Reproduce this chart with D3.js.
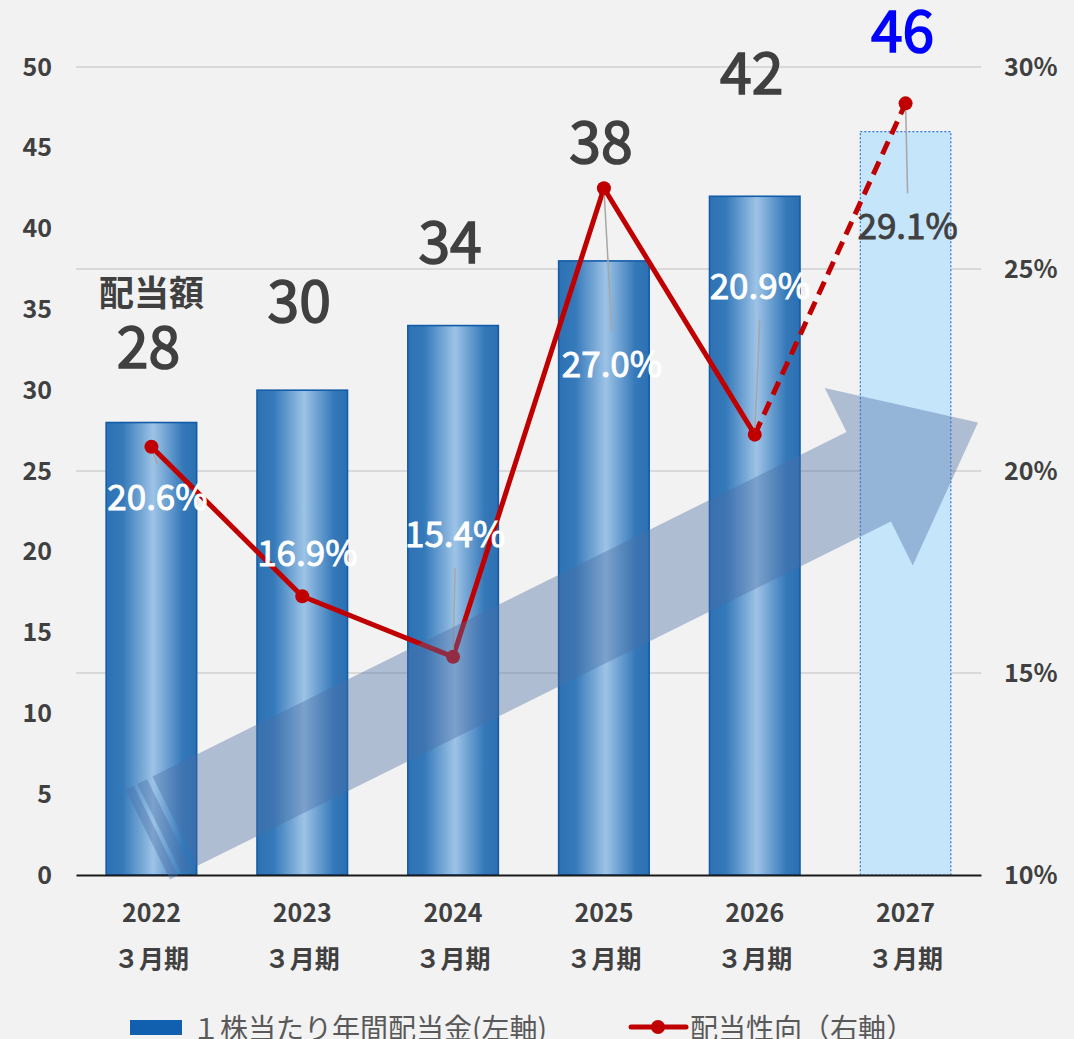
<!DOCTYPE html>
<html>
<head>
<meta charset="utf-8">
<script src="https://cdn.jsdelivr.net/npm/d3@7"></script>
<style>
  html, body { margin: 0; padding: 0; background: #F2F2F2; }
  svg { display: block; font-family: "Noto Sans CJK JP", "Noto Sans", sans-serif; }
</style>
</head>
<body>
<svg id="chart" width="1074" height="1039"></svg>
<script>
// data
const categories = ['2022', '2023', '2024', '2025', '2026', '2027'];
const periodLabel = '３月期';
const dividends = [28, 30, 34, 38, 42, 46];
const payoutRatios = [20.6, 16.9, 15.4, 27.0, 20.9, 29.1];
const leftTicks = [0, 5, 10, 15, 20, 25, 30, 35, 40, 45, 50];
const rightTicks = [10, 15, 20, 25, 30];
const forecastIndex = 5;
const seriesNames = ['１株当たり年間配当金(左軸)', '配当性向（右軸）'];

// hand placed label nudges (pixels)
const valueLift = [55, 68, 63, 98, 102, 80];
const ratioOffset = [[6, 51], [5, -43], [2, -122], [8, 176], [5, -148], [2, 123]];

const W = 1074, H = 1039;
const plot = {left: 76, right: 981, top: 67, bottom: 875};
const svg = d3.select('#chart');

svg.append('rect').attr('width', W).attr('height', H).attr('fill', '#F2F2F2');

const x = d3.scaleBand()
    .domain(categories)
    .range([plot.left, plot.right])
    .paddingInner(0.4)
    .paddingOuter(0.2);
const yL = d3.scaleLinear().domain([0, 50]).range([plot.bottom, plot.top]);
const yR = d3.scaleLinear().domain([10, 30]).range([plot.bottom, plot.top]);
const cx = i => x(categories[i]) + x.bandwidth() / 2;

// gradient for the bars
const defs = svg.append('defs');
const grad = defs.append('linearGradient').attr('id', 'barGrad')
    .attr('x1', '0%').attr('x2', '100%').attr('y1', '0%').attr('y2', '0%');
[[0, '#2E72B4'], [0.18, '#3479BA'], [0.52, '#9DC3E6'], [0.85, '#3478B9'], [1, '#2C70B2']]
    .forEach(s => grad.append('stop').attr('offset', s[0]).attr('stop-color', s[1]));

// gridlines from the right axis
svg.append('g').selectAll('line')
    .data(rightTicks.filter(t => t > 10))
    .enter().append('line')
    .attr('x1', plot.left).attr('x2', plot.right)
    .attr('y1', d => yR(d)).attr('y2', d => yR(d))
    .attr('stroke', '#D9D9D9').attr('stroke-width', 2);

// axes
const leftAxis = svg.append('g')
    .attr('transform', `translate(${plot.left},0)`)
    .call(d3.axisLeft(yL).tickValues(leftTicks).tickSize(0).tickPadding(24));
leftAxis.select('.domain').remove();
leftAxis.selectAll('text')
    .attr('font-size', 25).attr('font-weight', 'bold').attr('fill', '#404040')
    .attr('font-family', '"Noto Sans CJK JP", sans-serif');

const rightAxis = svg.append('g')
    .attr('transform', `translate(${plot.right},0)`)
    .call(d3.axisRight(yR).tickValues(rightTicks).tickSize(0).tickPadding(23)
        .tickFormat(d => d + '%'));
rightAxis.select('.domain').remove();
rightAxis.selectAll('text')
    .attr('font-size', 25).attr('font-weight', 'bold').attr('fill', '#404040')
    .attr('font-family', '"Noto Sans CJK JP", sans-serif');

// bars
svg.append('g').selectAll('rect')
    .data(dividends)
    .enter().append('rect')
    .attr('x', (d, i) => x(categories[i]))
    .attr('width', x.bandwidth())
    .attr('y', d => yL(d))
    .attr('height', d => yL(0) - yL(d))
    .attr('fill', (d, i) => i === forecastIndex ? '#C5E5FB' : 'url(#barGrad)')
    .attr('stroke', (d, i) => i === forecastIndex ? '#2E75D6' : '#125CAA')
    .attr('stroke-width', (d, i) => i === forecastIndex ? 1.2 : 1.6)
    .attr('stroke-dasharray', (d, i) => i === forecastIndex ? '2,2' : null);

// x axis
const xAxis = svg.append('g')
    .attr('transform', `translate(0,${plot.bottom})`)
    .call(d3.axisBottom(x).tickSize(0).tickPadding(0));
xAxis.select('.domain').attr('stroke', '#1A1A1A').attr('stroke-width', 2);
xAxis.selectAll('.tick text').each(function(d) {
    const t = d3.select(this).text(null)
        .attr('font-size', 25).attr('font-weight', 'bold').attr('fill', '#404040')
        .attr('font-family', '"Noto Sans CJK JP", sans-serif')
        .attr('dy', null).attr('y', 0);
    t.append('tspan').attr('x', 0).attr('y', 47).text(d);
    t.append('tspan').attr('x', 0).attr('y', 93).text(periodLabel);
});

// payout ratio line
const pts = payoutRatios.map((v, i) => [cx(i), yR(v)]);
const line = d3.line();
svg.append('path')
    .attr('d', line(pts.slice(0, forecastIndex)))
    .attr('fill', 'none').attr('stroke', '#C00000').attr('stroke-width', 5)
    .attr('stroke-linejoin', 'round');
svg.append('path')
    .attr('d', line(pts.slice(forecastIndex - 1)))
    .attr('fill', 'none').attr('stroke', '#C00000').attr('stroke-width', 5)
    .attr('stroke-dasharray', '14,8');

// leader lines
const lab = pts.map((p, i) => [p[0] + ratioOffset[i][0], p[1] + ratioOffset[i][1]]);
svg.append('g').selectAll('line')
    .data(pts.map((p, i) => i).filter(i => Math.abs(ratioOffset[i][1]) > 50))
    .enter().append('line')
    .attr('x1', i => pts[i][0]).attr('y1', i => pts[i][1])
    .attr('x2', i => lab[i][0])
    .attr('y2', i => lab[i][1] - Math.sign(ratioOffset[i][1]) * 33)
    .attr('stroke', '#A6A6A6').attr('stroke-width', 1.5);

svg.append('g').selectAll('circle')
    .data(pts)
    .enter().append('circle')
    .attr('cx', d => d[0]).attr('cy', d => d[1]).attr('r', 7)
    .attr('fill', '#C00000');

// big trend arrow (decoration), sits over the line
const tail = [x(categories[0]) + 0.46 * x.bandwidth(), yL(2.5)];
const tip = [plot.right - 3, yL(28)];
const len = Math.hypot(tip[0] - tail[0], tip[1] - tail[1]);
const ux = (tip[0] - tail[0]) / len, uy = (tip[1] - tail[1]) / len;
const px = -uy, py = ux; // perpendicular
const pt = (t, w) => [tail[0] + ux * t + px * w, tail[1] + uy * t + py * w];
const shaftW = 50, headW = 99, headLen = 122;
const arrowG = svg.append('g').attr('fill', '#4A6FA5').attr('fill-opacity', 0.4);
const poly = p => arrowG.append('path').attr('d', 'M' + p.map(q => q.join(',')).join('L') + 'Z');
poly([pt(0, -shaftW), pt(9, -shaftW), pt(9, shaftW), pt(0, shaftW)]);
poly([pt(13, -shaftW), pt(24, -shaftW), pt(24, shaftW), pt(13, shaftW)]);
poly([pt(30, -shaftW), pt(len - headLen, -shaftW), pt(len - headLen, -headW), pt(len, 0),
      pt(len - headLen, headW), pt(len - headLen, shaftW), pt(30, shaftW)]);

// ratio labels (regular face with a thin stroke, reads as medium)
svg.append('g').selectAll('text')
    .data(payoutRatios)
    .enter().append('text')
    .attr('x', (d, i) => lab[i][0])
    .attr('y', (d, i) => lab[i][1])
    .attr('dy', '0.36em')
    .attr('text-anchor', 'middle')
    .attr('font-size', 35)
    .attr('fill', (d, i) => i === forecastIndex ? '#404040' : '#FFFFFF')
    .attr('stroke', (d, i) => i === forecastIndex ? '#404040' : '#FFFFFF')
    .attr('stroke-width', 0.9)
    .text(d => d.toFixed(1) + '%');

// dividend value labels
svg.append('g').selectAll('text')
    .data(dividends)
    .enter().append('text')
    .attr('x', (d, i) => cx(i) - 3)
    .attr('y', (d, i) => yL(d) - valueLift[i])
    .attr('text-anchor', 'middle')
    .attr('font-size', 57)
    .attr('fill', (d, i) => i === forecastIndex ? '#0000FF' : '#404040')
    .attr('stroke', (d, i) => i === forecastIndex ? '#0000FF' : '#404040')
    .attr('stroke-width', 1.6)
    .text(d => d);

svg.append('text')
    .attr('x', cx(0)).attr('y', yL(dividends[0]) - valueLift[0] - 62)
    .attr('text-anchor', 'middle')
    .attr('font-size', 35).attr('font-weight', 'bold').attr('fill', '#404040')
    .text('配当額');

// legend
const leg = svg.append('g').attr('transform', 'translate(0,1027)');
leg.append('rect').attr('x', 130).attr('y', -7).attr('width', 52).attr('height', 15)
    .attr('fill', '#1160B0');
leg.append('text').attr('x', 192).attr('y', 12)
    .attr('font-size', 28).attr('fill', '#595959').text(seriesNames[0]);
leg.append('line').attr('x1', 631).attr('x2', 686).attr('y1', 0).attr('y2', 0)
    .attr('stroke', '#C00000').attr('stroke-width', 5).attr('stroke-linecap', 'round');
leg.append('circle').attr('cx', 658).attr('cy', 0).attr('r', 7).attr('fill', '#C00000');
leg.append('text').attr('x', 690).attr('y', 12)
    .attr('font-size', 28).attr('fill', '#595959').text(seriesNames[1]);
</script>
</body>
</html>
